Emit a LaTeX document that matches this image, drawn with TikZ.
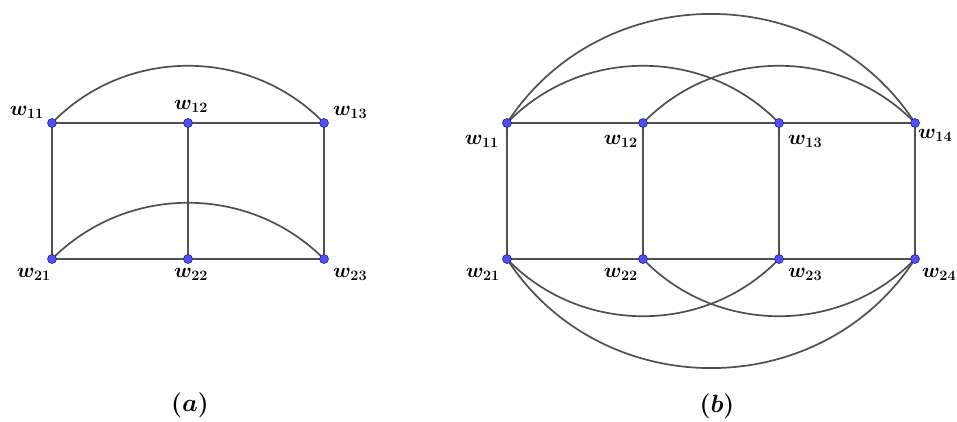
\documentclass[tikz,border=0pt]{standalone}
\usetikzlibrary{calc}
\pgfdeclarelayer{bg}
\pgfsetlayers{bg,main}
\definecolor{edgegray}{RGB}{80,80,80}
\definecolor{dotfill}{RGB}{80,80,245}
\definecolor{dotline}{RGB}{30,30,150}
\tikzset{
  dot/.style={circle, fill=dotfill, draw=dotline, line width=0.6pt, inner sep=0pt, minimum size=9pt},
  edge/.style={draw=edgegray, line width=1.7pt},
  lab/.style={font=\fontsize{22}{26}\selectfont\boldmath, inner sep=0pt},
  captionlab/.style={font=\fontsize{26}{30}\selectfont\boldmath, inner sep=0pt}
}
\begin{document}
\begin{tikzpicture}[x=1pt, y=-1pt]
\useasboundingbox (0,0) rectangle (957,421);
% graph (a)
\node[dot] (a11) at (52,123) {};
\node[dot] (a12) at (188,123) {};
\node[dot] (a13) at (324,123) {};
\node[dot] (a21) at (52,259) {};
\node[dot] (a22) at (188,259) {};
\node[dot] (a23) at (324,259) {};
% graph (b)
\node[dot] (b11) at (507,123) {};
\node[dot] (b12) at (643,123) {};
\node[dot] (b13) at (779,123) {};
\node[dot] (b14) at (915,123) {};
\node[dot] (b21) at (507,259) {};
\node[dot] (b22) at (643,259) {};
\node[dot] (b23) at (779,259) {};
\node[dot] (b24) at (915,259) {};
\begin{pgfonlayer}{bg}
  \draw[edge] (a11.center) -- (a12.center) -- (a13.center) -- (a23.center) -- (a22.center) -- (a21.center) -- (a11.center);
  \draw[edge] (a12.center) -- (a22.center);
  \draw[edge] (a11.center) to[bend left=46] (a13.center);
  \draw[edge] (a21.center) to[bend left=45] (a23.center);
  \draw[edge] (b11.center) -- (b12.center) -- (b13.center) -- (b14.center) -- (b24.center) -- (b23.center) -- (b22.center) -- (b21.center) -- (b11.center);
  \draw[edge] (b12.center) -- (b22.center);
  \draw[edge] (b13.center) -- (b23.center);
  \draw[edge] (b11.center) to[bend left=46] (b13.center);
  \draw[edge] (b12.center) to[bend left=46] (b14.center);
  \draw[edge] (b11.center) to[bend left=57, looseness=1.09] (b14.center);
  \draw[edge] (b21.center) to[bend right=46] (b23.center);
  \draw[edge] (b22.center) to[bend right=46] (b24.center);
  \draw[edge] (b21.center) to[bend right=57, looseness=1.09] (b24.center);
\end{pgfonlayer}
% labels (a)
\node[lab, anchor=east] (la11) at (44,112) {$w_{11}$};
\node[lab] (la12) at (191,106) {$w_{12}$};
\node[lab, anchor=west] (la13) at (333,112) {$w_{13}$};
\node[lab, anchor=east] (la21) at (51,274) {$w_{21}$};
\node[lab] (la22) at (191,274) {$w_{22}$};
\node[lab, anchor=west] (la23) at (333,274) {$w_{23}$};
% labels (b)
\node[lab, anchor=east] (lb11) at (499,141) {$w_{11}$};
\node[lab, anchor=east] (lb12) at (638,141) {$w_{12}$};
\node[lab, anchor=west] (lb13) at (788,141) {$w_{13}$};
\node[lab, anchor=west] (lb14) at (918,135) {$w_{14}$};
\node[lab, anchor=east] (lb21) at (500,274) {$w_{21}$};
\node[lab, anchor=east] (lb22) at (638,274) {$w_{22}$};
\node[lab, anchor=west] (lb23) at (788,274) {$w_{23}$};
\node[lab, anchor=west] (lb24) at (922,274) {$w_{24}$};
% captions
\node[captionlab] (capa) at (190,405) {$(a)$};
\node[captionlab] (capb) at (717,406) {$(b)$};
\end{tikzpicture}
\end{document}
